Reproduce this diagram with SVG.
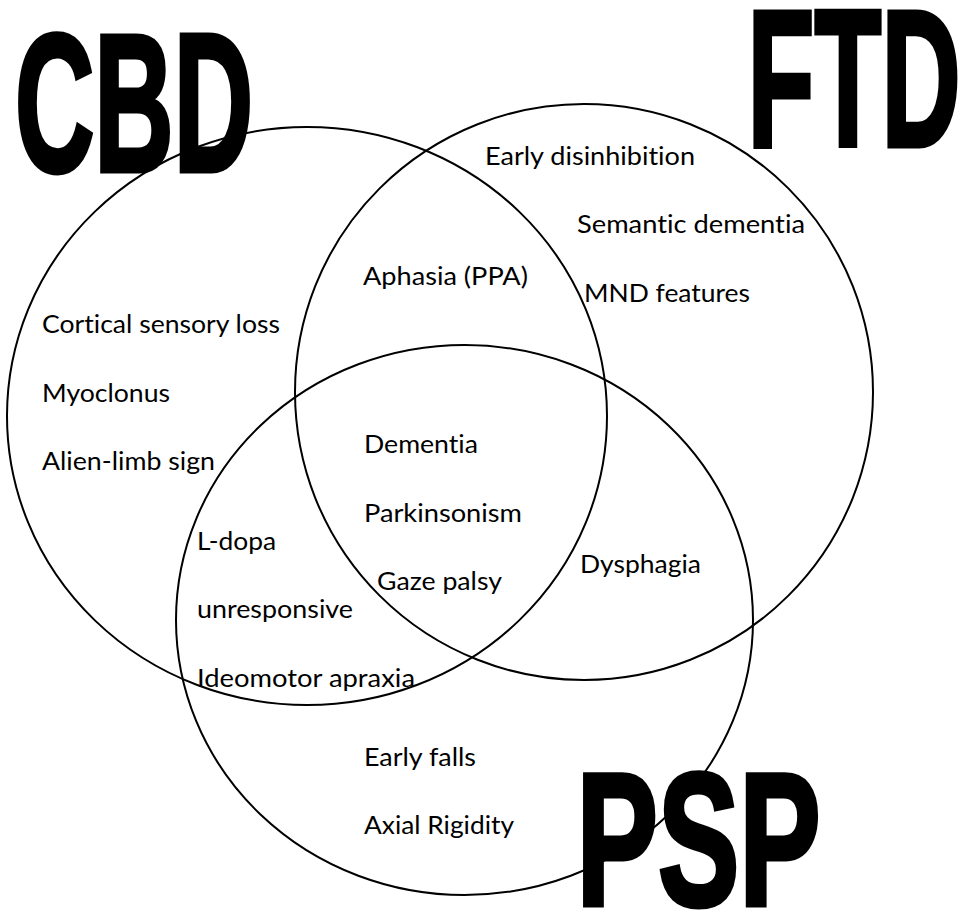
<svg xmlns="http://www.w3.org/2000/svg" width="965" height="911" viewBox="0 0 965 911">
<style>
.ring{fill:none;stroke:#000;stroke-width:2}
.lbl{font-family:Lato,"Liberation Sans",sans-serif;font-size:25.5px;fill:#000;font-variant-ligatures:none}
.big{font-family:"Liberation Sans",Arial,sans-serif;font-weight:bold;fill:#000;stroke:#000;stroke-width:5;stroke-linejoin:miter}
</style>
<rect width="965" height="911" fill="#fff"/>
<g id="connectors"></g>
<g id="cbd">
<ellipse class="ring" cx="307" cy="416" rx="300" ry="289"/>
<text class="lbl" x="42" y="333" textLength="238" lengthAdjust="spacingAndGlyphs">Cortical sensory loss</text>
<text class="lbl" x="42" y="402" textLength="128" lengthAdjust="spacingAndGlyphs">Myoclonus</text>
<text class="lbl" x="42" y="470" textLength="173" lengthAdjust="spacingAndGlyphs">Alien-limb sign</text>
</g>
<g id="ftd">
<ellipse class="ring" cx="584" cy="392" rx="289" ry="288"/>
<text class="lbl" x="485" y="165" textLength="210" lengthAdjust="spacingAndGlyphs">Early disinhibition</text>
<text class="lbl" x="577" y="233" textLength="228" lengthAdjust="spacingAndGlyphs">Semantic dementia</text>
<text class="lbl" x="584" y="302" textLength="166" lengthAdjust="spacingAndGlyphs">MND features</text>
</g>
<g id="psp">
<ellipse class="ring" cx="464.5" cy="620" rx="288.5" ry="275"/>
<text class="lbl" x="364" y="766" textLength="112" lengthAdjust="spacingAndGlyphs">Early falls</text>
<text class="lbl" x="364" y="834" textLength="150" lengthAdjust="spacingAndGlyphs">Axial Rigidity</text>
</g>
<g id="cbd-ftd">
<text class="lbl" x="363" y="285" textLength="165" lengthAdjust="spacingAndGlyphs">Aphasia (PPA)</text>
</g>
<g id="cbd-psp">
<text class="lbl" x="197" y="550" textLength="79" lengthAdjust="spacingAndGlyphs">L-dopa</text>
<text class="lbl" x="197" y="618" textLength="156" lengthAdjust="spacingAndGlyphs">unresponsive</text>
<text class="lbl" x="197" y="687" textLength="218" lengthAdjust="spacingAndGlyphs">Ideomotor apraxia</text>
</g>
<g id="ftd-psp">
<text class="lbl" x="580" y="573" textLength="121" lengthAdjust="spacingAndGlyphs">Dysphagia</text>
</g>
<g id="all-three">
<text class="lbl" x="364" y="453" textLength="114" lengthAdjust="spacingAndGlyphs">Dementia</text>
<text class="lbl" x="364" y="522" textLength="158" lengthAdjust="spacingAndGlyphs">Parkinsonism</text>
<text class="lbl" x="377" y="590" textLength="125" lengthAdjust="spacingAndGlyphs">Gaze palsy</text>
</g>
<g id="title-cbd">
<text class="big" font-size="196" x="15" y="170.5" textLength="238" lengthAdjust="spacingAndGlyphs">CBD</text>
</g>
<g id="title-ftd">
<text class="big" font-size="195" x="747.6" y="145.5" textLength="213" lengthAdjust="spacingAndGlyphs">FTD</text>
</g>
<g id="title-psp">
<text class="big" font-size="189" x="576.6" y="904.5" textLength="244" lengthAdjust="spacingAndGlyphs">PSP</text>
</g>
</svg>
